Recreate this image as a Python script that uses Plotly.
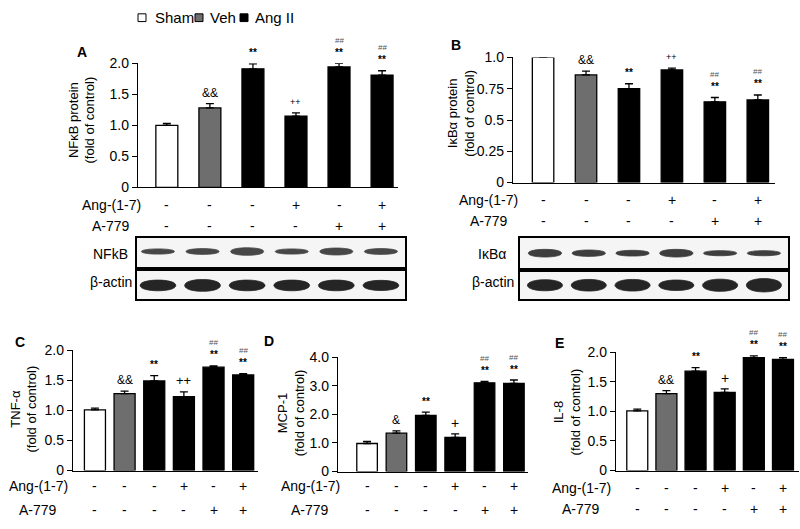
import plotly.graph_objects as go

W, H = 800, 529

# ---------------- data ----------------
groups = ["Sham", "Veh", "Ang II"]
group_colors = ["white", "#6e6e6e", "black"]
lane_group = [0, 1, 2, 2, 2, 2]
ang17 = ["-", "-", "-", "+", "-", "+"]
a779 = ["-", "-", "-", "-", "+", "+"]
lanes = [0, 1, 2, 3, 4, 5]

nfkb = [1.00, 1.28, 1.91, 1.15, 1.94, 1.81]
nfkb_err = [0.03, 0.07, 0.08, 0.05, 0.06, 0.07]
nfkb_sig = ["", "&&", "**", "++", "**", "**"]
nfkb_hash = ["", "", "", "", "##", "##"]

ikba = [1.00, 0.86, 0.75, 0.90, 0.645, 0.66]
ikba_err = [0.003, 0.03, 0.04, 0.015, 0.035, 0.04]
ikba_sig = ["", "&&", "**", "++", "**", "**"]
ikba_hash = ["", "", "", "", "##", "##"]

tnf = [1.01, 1.28, 1.49, 1.23, 1.72, 1.59]
tnf_err = [0.03, 0.04, 0.09, 0.08, 0.02, 0.02]
tnf_sig = ["", "&&", "**", "++", "**", "**"]
tnf_hash = ["", "", "", "", "##", "##"]

mcp = [0.98, 1.34, 1.96, 1.19, 3.10, 3.08]
mcp_err = [0.07, 0.08, 0.12, 0.13, 0.05, 0.12]
mcp_sig = ["", "&", "**", "+", "**", "**"]
mcp_hash = ["", "", "", "", "##", "##"]

il8 = [1.01, 1.30, 1.68, 1.32, 1.91, 1.88]
il8_err = [0.03, 0.05, 0.06, 0.06, 0.03, 0.03]
il8_sig = ["", "&&", "**", "+", "**", "**"]
il8_hash = ["", "", "", "", "##", "##"]

ticks_2 = [0, 0.5, 1.0, 1.5, 2.0]
ticks_2_txt = ["0", "0.5", "1.0", "1.5", "2.0"]
ticks_1 = [0, 0.25, 0.5, 0.75, 1.0]
ticks_1_txt = ["0", "0.25", "0.5", "0.75", "1.0"]
ticks_4 = [0, 1, 2, 3, 4]
ticks_4_txt = ["0", "1.0", "2.0", "3.0", "4.0"]

# western blot band half-thickness (relative strip units)
nfkb_band = [0.09, 0.10, 0.13, 0.09, 0.12, 0.10]
actinA_band = [0.19, 0.21, 0.19, 0.19, 0.19, 0.18]
ikba_band = [0.12, 0.10, 0.09, 0.12, 0.08, 0.08]
actinB_band = [0.19, 0.20, 0.20, 0.18, 0.21, 0.23]


def X(px):
    return px / W


def Y(py):
    return 1 - py / H


FONT = "Liberation Sans, Arial, sans-serif"

fig = go.Figure()

panels = [
    dict(ax=1, letter="A", vals=nfkb, err=nfkb_err, sig=nfkb_sig, hsh=nfkb_hash,
         xd=(138, 398), yd=(185, 57), xr=(-0.67, 5.37), yr=(0, 2.0), tv=ticks_2, tt=ticks_2_txt,
         bw=0.51, title="NFκB protein<br>(fold of control)", tpos=(82, 116),
         lpos=(82, 45), row_y=(203, 225), row_x=111, sigfs=10, plusfs=9),
    dict(ax=2, letter="B", vals=ikba, err=ikba_err, sig=ikba_sig, hsh=ikba_hash,
         xd=(513, 775), yd=(180, 51), xr=(-0.70, 5.40), yr=(0, 1.0), tv=ticks_1, tt=ticks_1_txt,
         bw=0.50, title="IκBα protein<br>(fold of control)", tpos=(461, 109),
         lpos=(456, 38), row_y=(198, 220), row_x=489, sigfs=10, plusfs=9),
    dict(ax=3, letter="C", vals=tnf, err=tnf_err, sig=tnf_sig, hsh=tnf_hash,
         xd=(73, 258), yd=(477, 353), xr=(-0.74, 5.5), yr=(0, 2.0), tv=ticks_2, tt=ticks_2_txt,
         bw=0.71, title="TNF-α<br>(fold of control)", tpos=(24, 414),
         lpos=(20, 344), row_y=(493, 518), row_x=38, sigfs=10, plusfs=13),
    dict(ax=4, letter="D", vals=mcp, err=mcp_err, sig=mcp_sig, hsh=mcp_hash,
         xd=(338, 528), yd=(478, 360), xr=(-0.99, 5.48), yr=(0, 4.0), tv=ticks_4, tt=ticks_4_txt,
         bw=0.70, title="MCP-1<br>(fold of control)", tpos=(291, 418),
         lpos=(269, 343), row_y=(493, 518), row_x=310, sigfs=10, plusfs=14),
    dict(ax=5, letter="E", vals=il8, err=il8_err, sig=il8_sig, hsh=il8_hash,
         xd=(616, 799), yd=(477, 355), xr=(-0.73, 5.55), yr=(0, 2.0), tv=ticks_2, tt=ticks_2_txt,
         bw=0.72, title="IL-8<br>(fold of control)", tpos=(567, 417),
         lpos=(559, 345), row_y=(495, 517), row_x=581, sigfs=10, plusfs=14),
]

annotations = []
shapes = []
layout_axes = {}

for p in panels:
    n = p["ax"]
    xa = "x" if n == 1 else f"x{n}"
    ya = "y" if n == 1 else f"y{n}"
    fig.add_trace(go.Bar(
        x=lanes, y=p["vals"], width=p["bw"], xaxis=xa, yaxis=ya,
        marker=dict(color=[group_colors[g] for g in lane_group],
                    line=dict(color="black", width=1.3)),
        error_y=dict(type="data", array=p["err"], arrayminus=[0] * 6, symmetric=False,
                     color="black", thickness=1.3, width=4),
        showlegend=False, hoverinfo="skip",
    ))
    layout_axes[f"xaxis{'' if n == 1 else n}"] = dict(
        domain=[X(p["xd"][0]), X(p["xd"][1])], range=list(p["xr"]), anchor=ya,
        showline=True, linecolor="black", linewidth=1.3, ticks="", showticklabels=False,
        showgrid=False, zeroline=False, fixedrange=True)
    layout_axes[f"yaxis{'' if n == 1 else n}"] = dict(
        domain=[Y(p["yd"][0]), Y(p["yd"][1])], range=list(p["yr"]), anchor=xa,
        showline=True, linecolor="black", linewidth=1.3, ticks="outside", ticklen=5,
        tickwidth=1.3, tickcolor="black", tickvals=p["tv"], ticktext=p["tt"],
        tickfont=dict(family=FONT, size=14, color="black"),
        showgrid=False, zeroline=False, fixedrange=True)
    # panel letter
    annotations.append(dict(text=f"<b>{p['letter']}</b>", x=X(p["lpos"][0]), y=Y(p["lpos"][1]),
                            xref="paper", yref="paper", showarrow=False, xanchor="center",
                            yanchor="middle", font=dict(family=FONT, size=14, color="black")))
    # y title
    annotations.append(dict(text=p["title"], x=X(p["tpos"][0]), y=Y(p["tpos"][1]),
                            xref="paper", yref="paper", showarrow=False, textangle=-90,
                            xanchor="center", yanchor="middle",
                            font=dict(family=FONT, size=13, color="black")))
    # treatment rows
    for lbl, row, ry in (("Ang-(1-7)", ang17, p["row_y"][0]), ("A-779", a779, p["row_y"][1])):
        annotations.append(dict(text=lbl, x=X(p["row_x"]), y=Y(ry), xref="paper", yref="paper",
                                showarrow=False, xanchor="center", yanchor="middle",
                                font=dict(family=FONT, size=14, color="black")))
        for i, s in enumerate(row):
            annotations.append(dict(text=s, x=lanes[i], y=Y(ry), xref=xa, yref="paper",
                                    showarrow=False, xanchor="center", yanchor="middle",
                                    font=dict(family=FONT, size=14, color="black")))
    # significance marks
    for i in lanes:
        top = p["vals"][i] + p["err"][i]
        s = p["sig"][i]
        if s:
            if s.startswith("+"):
                txt, fs = s, p["plusfs"]
            elif s.startswith("&"):
                txt, fs = s, 12
            else:
                txt, fs = f"<b>{s}</b>", p["sigfs"]
            annotations.append(dict(text=txt, x=lanes[i], y=top, xref=xa, yref=ya, showarrow=False,
                                    xanchor="center", yanchor="middle", yshift=11,
                                    font=dict(family=FONT, size=fs, color="black")))
        if p["hsh"][i]:
            annotations.append(dict(text=p["hsh"][i], x=lanes[i], y=top, xref=xa, yref=ya,
                                    showarrow=False, xanchor="center", yanchor="middle", yshift=23,
                                    font=dict(family=FONT, size=8, color="#555555")))

# ---------------- legend (manual) ----------------
leg_boxes = [(138, 146), (195, 203), (240, 248)]
leg_text_x = [153, 208, 253]
for g, (x0, x1), tx in zip(range(3), leg_boxes, leg_text_x):
    shapes.append(dict(type="rect", xref="paper", yref="paper", x0=X(x0), x1=X(x1),
                       y0=Y(14), y1=Y(6), fillcolor=group_colors[g],
                       line=dict(color="black", width=1)))
    annotations.append(dict(text=groups[g], x=X(tx), y=Y(10), xref="paper", yref="paper",
                            showarrow=False, xanchor="left", yanchor="middle",
                            font=dict(family=FONT, size=15, color="black")))

# ---------------- western blots ----------------
blots = [
    dict(ax=6, name="NFkB", xd=(137, 405), yd=(267, 237), xr=(-0.47, 5.54), band=nfkb_band,
         yc=0.53, hw=0.37, color="#383838", lab_x=110, lab_y=254),
    dict(ax=7, name="β-actin", xd=(137, 405), yd=(300, 271), xr=(-0.47, 5.54), band=actinA_band,
         yc=0.48, hw=0.40, color="#141414", lab_x=111, lab_y=283),
    dict(ax=8, name="IκBα", xd=(520, 788), yd=(270, 237), xr=(-0.57, 5.55), band=ikba_band,
         yc=0.52, hw=0.38, color="#2e2e2e", lab_x=492, lab_y=254),
    dict(ax=9, name="β-actin", xd=(520, 788), yd=(300, 270), xr=(-0.57, 5.55), band=actinB_band,
         yc=0.47, hw=0.40, color="#141414", lab_x=493, lab_y=283),
]


def band_path(xc, yc, hw, hh):
    k = hh / 0.75
    return (f"M{xc - hw},{yc} C{xc - hw},{yc + k} {xc + hw},{yc + k} {xc + hw},{yc} "
            f"C{xc + hw},{yc - k} {xc - hw},{yc - k} {xc - hw},{yc} Z")


for b in blots:
    n = b["ax"]
    xa, ya = f"x{n}", f"y{n}"
    layout_axes[f"xaxis{n}"] = dict(domain=[X(b["xd"][0]), X(b["xd"][1])], range=list(b["xr"]),
                                    anchor=ya, showline=True, mirror=True, linecolor="black",
                                    linewidth=1.5, ticks="", showticklabels=False,
                                    showgrid=False, zeroline=False, fixedrange=True)
    layout_axes[f"yaxis{n}"] = dict(domain=[Y(b["yd"][0]), Y(b["yd"][1])], range=[0, 1],
                                    anchor=xa, showline=True, mirror=True, linecolor="black",
                                    linewidth=1.5, ticks="", showticklabels=False,
                                    showgrid=False, zeroline=False, fixedrange=True)
    fig.add_trace(go.Scatter(x=lanes, y=[b["yc"]] * 6, xaxis=xa, yaxis=ya, mode="markers",
                             marker=dict(size=1, opacity=0), showlegend=False, hoverinfo="skip"))
    shapes.append(dict(type="rect", xref=f"{xa} domain", yref=f"{ya} domain", x0=0, x1=1, y0=0,
                       y1=1, fillcolor="#f5f5f5", line=dict(width=0), layer="below"))
    for i, hh in zip(lanes, b["band"]):
        shapes.append(dict(type="path", xref=xa, yref=ya, path=band_path(i, b["yc"], b["hw"], hh),
                           fillcolor=b["color"], line=dict(color=b["color"], width=0.8),
                           opacity=0.92, layer="above"))
    annotations.append(dict(text=b["name"], x=X(b["lab_x"]), y=Y(b["lab_y"]), xref="paper",
                            yref="paper", showarrow=False, xanchor="center", yanchor="middle",
                            font=dict(family=FONT, size=14, color="black")))

fig.update_layout(
    width=W, height=H, margin=dict(l=0, r=0, t=0, b=0),
    paper_bgcolor="white", plot_bgcolor="white",
    barmode="overlay", showlegend=False,
    annotations=annotations, shapes=shapes,
    **layout_axes,
)

fig.write_html("out.html", config={"displayModeBar": False},
               post_script="document.body.style.margin='0px';")
